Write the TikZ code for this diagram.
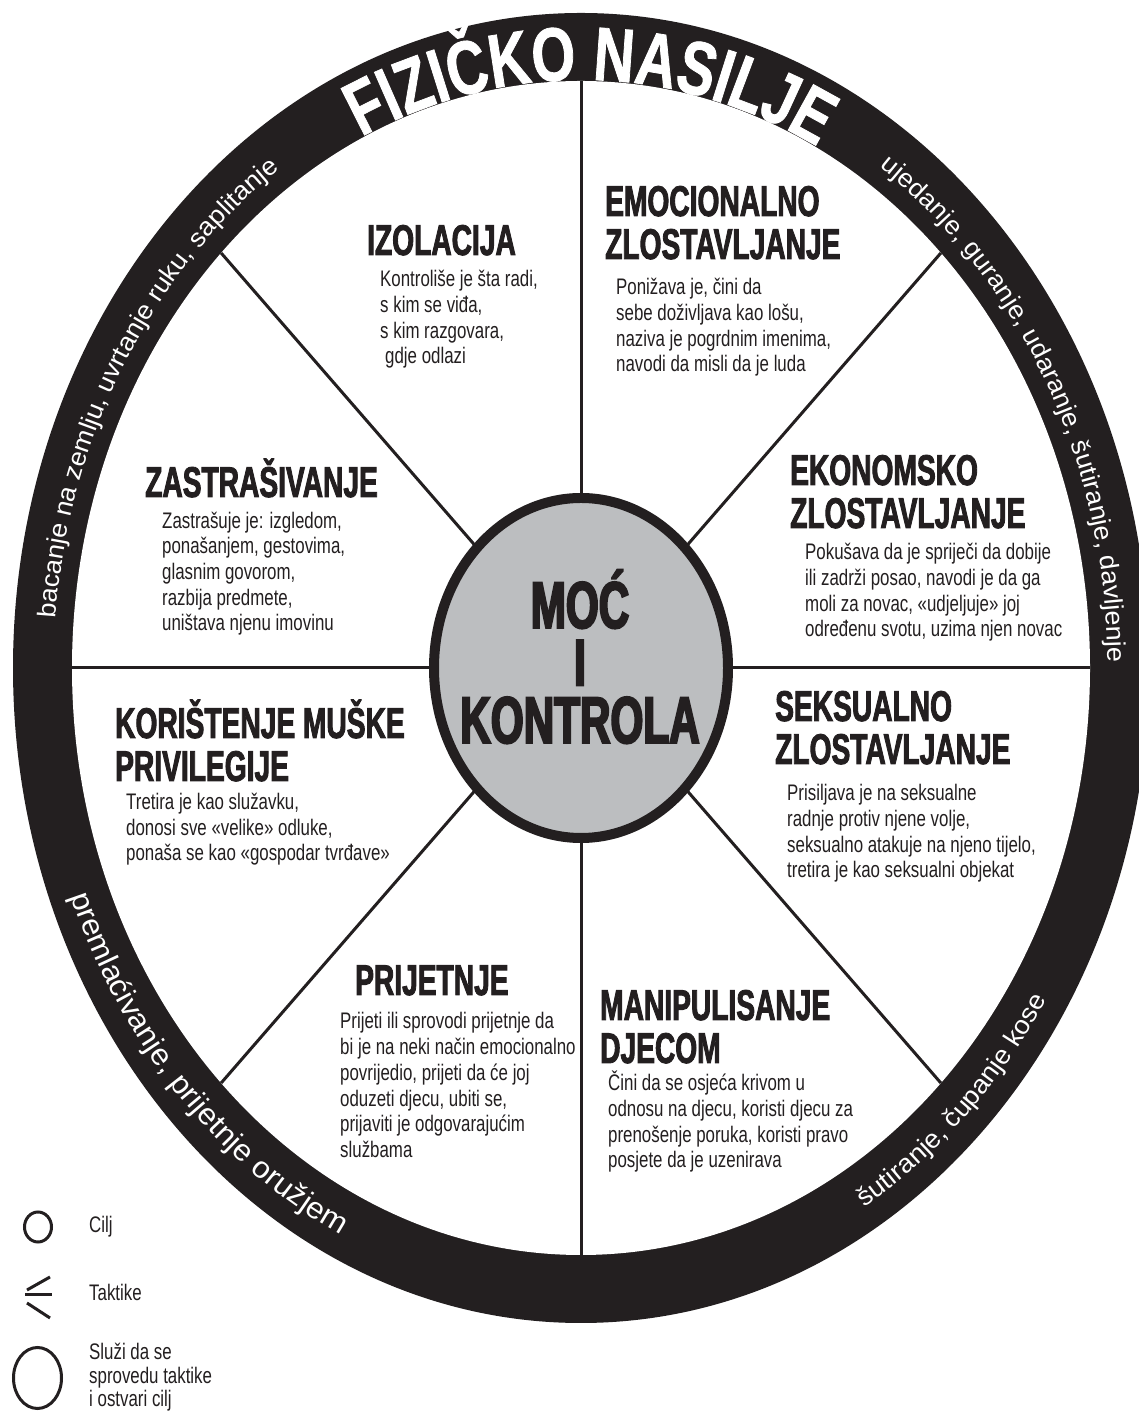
\documentclass[tikz,border=0pt]{standalone}
\usepackage{fontspec}
\setmainfont{Liberation Sans}
\newfontfamily\headfont[FakeStretch=0.655,FakeBold=2]{Liberation Sans}
\newfontfamily\bodyfont[FakeStretch=0.75]{Liberation Sans}
\newfontfamily\hubfont[FakeStretch=0.64,FakeBold=3]{Liberation Sans}
\newfontfamily\topfont[FakeStretch=0.74,FakeBold=1]{Liberation Sans}
\newfontfamily\sidefont[FakeStretch=1.05]{Liberation Sans}
\newfontfamily\lowfont[FakeStretch=1.05]{Liberation Sans}
\usetikzlibrary{decorations.text}
\definecolor{ink}{HTML}{231F20}
\definecolor{hub}{HTML}{BCBEC0}
\tikzset{
  head/.style={anchor=base west, inner sep=0pt, align=left, text=ink,
    font=\headfont\bfseries\fontsize{43}{43}\selectfont},
  body/.style={anchor=base west, inner sep=0pt, align=left, text=ink,
    font=\bodyfont\fontsize{22.5}{25.7}\selectfont},
  legend/.style={anchor=base west, inner sep=0pt, align=left, text=ink,
    font=\bodyfont\fontsize{22.5}{23.5}\selectfont},
  spoke/.style={draw=ink, line width=3pt},
  ringtext/.style={decorate, decoration={text along path, text align=center, text color=white, text={#1}}},
}
\begin{document}
\begin{tikzpicture}[x=1pt,y=1pt]
\useasboundingbox (0,0) rectangle (1139,1413);
\clip (0,0) rectangle (1139,1413);
\fill[white] (0,0) rectangle (1139,1413);
\coordinate (C) at (581,745);
% rim
\fill[ink] (C) ellipse [x radius=568, y radius=655];
\fill[white] (C) ellipse [x radius=509, y radius=587];
% spokes
\foreach \a in {0,45,...,315}{
  \coordinate (s\a) at ([shift={(\a:147 and 170)}]C);
  \coordinate (e\a) at ([shift={(\a:509 and 587)}]C);
  \draw[spoke] (s\a) -- (e\a);
}
% hub
\draw[ink, line width=10pt, fill=hub] (C) ellipse [x radius=147, y radius=170];
\node[anchor=base, inner sep=0pt, align=center, text=ink,
  font=\hubfont\bfseries\fontsize{66}{57.5}\selectfont] (hubtext) at (580,670) {MOĆ\\I\\KONTROLA};

% rim texts
\path[ringtext={|\topfont\bfseries\fontsize{76}{76}\selectfont|FIZIČKO NASILJE}]
  ([shift={(134:510 and 588)}]C) arc[start angle=134, end angle=44, x radius=510, y radius=588];
\path[ringtext={|\sidefont\fontsize{25.6}{25.6}\selectfont|bacanje na zemlju, uvrtanje ruku, saplitanje}]
  ([shift={(189.3:527 and 607.6)}]C) arc[start angle=189.3, end angle=109.3, x radius=527, y radius=607.6];
\path[ringtext={|\sidefont\fontsize{25.6}{25.6}\selectfont|ujedanje, guranje, udaranje, šutiranje, davljenje}]
  ([shift={(74:527 and 607.6)}]C) arc[start angle=74, end angle=-16, x radius=527, y radius=607.6];
\path[ringtext={|\lowfont\fontsize{30}{30}\selectfont|premlaćivanje, prijetnje oružjem}]
  ([shift={(183.7:547 and 631)}]C) arc[start angle=183.7, end angle=263.7, x radius=547, y radius=631];
\path[ringtext={|\lowfont\fontsize{26}{26}\selectfont|šutiranje, čupanje kose}]
  ([shift={(284:547 and 631)}]C) arc[start angle=284, end angle=344, x radius=547, y radius=631];

% sectors (anchors at baseline of the last line)
\node[head] (izoH) at (367,1158) {IZOLACIJA};
\node[body] (izoB) at (380,1049) {Kontroliše je šta radi,\\s kim se viđa,\\s kim razgovara,\\\hspace*{5pt}gdje odlazi};

\node[head] (emoH) at (605,1154) {EMOCIONALNO\\ZLOSTAVLJANJE};
\node[body] (emoB) at (616,1041) {Ponižava je, čini da\\sebe doživljava kao lošu,\\naziva je pogrdnim imenima,\\navodi da misli da je luda};

\node[head] (zasH) at (145,916) {ZASTRAŠIVANJE};
\node[body] (zasB) at (162,782) {Zastrašuje je: izgledom,\\ponašanjem, gestovima,\\glasnim govorom,\\razbija predmete,\\uništava njenu imovinu};

\node[head] (ekoH) at (790,885) {EKONOMSKO\\ZLOSTAVLJANJE};
\node[body] (ekoB) at (805,776) {Pokušava da je spriječi da dobije\\ili zadrži posao, navodi je da ga\\moli za novac, «udjeljuje» joj\\određenu svotu, uzima njen novac};

\node[head] (korH) at (115,632) {KORIŠTENJE MUŠKE\\PRIVILEGIJE};
\node[body] (korB) at (126,552) {Tretira je kao služavku,\\donosi sve «velike» odluke,\\ponaša se kao «gospodar tvrđave»};

\node[head] (sekH) at (775,649) {SEKSUALNO\\ZLOSTAVLJANJE};
\node[body] (sekB) at (787,535) {Prisiljava je na seksualne\\radnje protiv njene volje,\\seksualno atakuje na njeno tijelo,\\tretira je kao seksualni objekat};

\node[head] (priH) at (355,418) {PRIJETNJE};
\node[body] (priB) at (340,255.5) {Prijeti ili sprovodi prijetnje da\\bi je na neki način emocionalno\\povrijedio, prijeti da će joj\\oduzeti djecu, ubiti se,\\prijaviti je odgovarajućim\\službama};

\node[head] (manH) at (600,350) {MANIPULISANJE\\DJECOM};
\node[body] (manB) at (608,245) {Čini da se osjeća krivom u\\odnosu na djecu, koristi djecu za\\prenošenje poruka, koristi pravo\\posjete da je uzenirava};

% legend
\draw[ink, line width=3pt] (38,186) ellipse [x radius=13.5, y radius=15];
\node[legend] (lgGoal) at (89,180) {Cilj};
\coordinate (t1a) at (27,123); \coordinate (t1b) at (50,136);
\coordinate (t2a) at (25,118); \coordinate (t2b) at (52,118);
\coordinate (t3a) at (27,110); \coordinate (t3b) at (50,95);
\draw[ink, line width=3pt] (t1a) -- (t1b);
\draw[ink, line width=3pt] (t2a) -- (t2b);
\draw[ink, line width=3pt] (t3a) -- (t3b);
\node[legend] (lgTact) at (89,112) {Taktike};
\draw[ink, line width=3pt] (37.5,35) ellipse [x radius=24, y radius=30.5];
\node[legend] (lgRim) at (89,6) {Služi da se\\sprovedu taktike\\i ostvari cilj};
\end{tikzpicture}
\end{document}
